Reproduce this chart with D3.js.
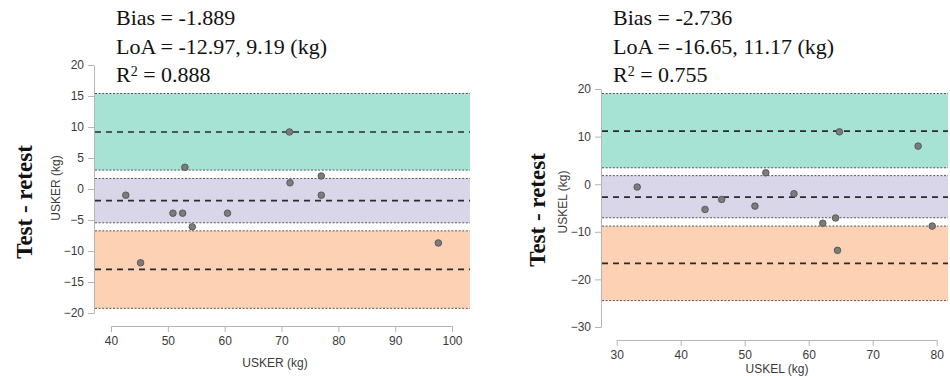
<!DOCTYPE html>
<html>
<head>
<meta charset="utf-8">
<script src="https://cdn.jsdelivr.net/npm/d3@7"></script>
<style>
  body { margin: 0; background: #fff; }
  svg { display: block; }
</style>
</head>
<body>
<div id="container"></div>
<script>
const width = 950;
const height = 376;

// USKER panel (left)
const leftX = [42.6, 45.2, 50.9, 52.6, 53.0, 54.3, 60.5, 71.4, 71.5, 77.0, 77.0, 97.6];
const leftY = [-1.0, -11.9, -3.9, -3.9, 3.5, -6.1, -3.9, 9.2, 1.0, 2.1, -1.0, -8.7];
const leftLines = [9.19, -1.889, -12.97]; // upper LoA, bias, lower LoA
const leftBands = [[3.05, 15.4], [-5.45, 1.7], [-19.25, -6.75]];
const leftXTicks = [40, 50, 60, 70, 80, 90, 100];
const leftYTicks = [20, 15, 10, 5, 0, -5, -10, -15, -20];
const leftText = ["Bias = -1.889", "LoA = -12.97, 9.19 (kg)", "0.888"];

// USKEL panel (right)
const rightX = [33.2, 43.8, 46.4, 51.6, 53.3, 57.7, 62.2, 64.2, 64.5, 64.8, 77.1, 79.3];
const rightY = [-0.6, -5.3, -3.2, -4.6, 2.4, -2.0, -8.2, -7.1, -13.9, 11.0, 8.0, -8.8];
const rightLines = [11.17, -2.736, -16.65];
const rightBands = [[3.45, 19.05], [-7.05, 1.8], [-24.45, -8.8]];
const rightXTicks = [30, 40, 50, 60, 70, 80];
const rightYTicks = [20, 10, 0, -10, -20, -30];
const rightText = ["Bias = -2.736", "LoA = -16.65, 11.17 (kg)", "0.755"];

const bandColours = ["#a7e3d5", "#d9d6ea", "#fdd1b3"];

const svg = d3.select("#container").append("svg")
  .attr("width", width)
  .attr("height", height);

function panel(opts) {
  const x = d3.scaleLinear().domain(opts.xDomain).range(opts.xRange);
  const y = d3.scaleLinear().domain(opts.yDomain).range(opts.yRange);
  const g = svg.append("g");

  // confidence bands
  g.selectAll("rect.band").data(opts.bands).enter().append("rect")
    .attr("class", "band")
    .attr("x", x(opts.xDomain[0]))
    .attr("width", x(opts.xDomain[1]) - x(opts.xDomain[0]))
    .attr("y", d => y(d[1]))
    .attr("height", d => y(d[0]) - y(d[1]))
    .style("fill", (d, i) => bandColours[i]);

  // dotted band edges
  const edges = opts.bands.flat();
  g.selectAll("line.edge").data(edges).enter().append("line")
    .attr("x1", x(opts.xDomain[0]))
    .attr("x2", x(opts.xDomain[1]))
    .attr("y1", d => y(d)).attr("y2", d => y(d))
    .style("stroke", "#555")
    .style("stroke-width", 1)
    .style("stroke-dasharray", "2,1.6");

  // bias and limits of agreement
  g.selectAll("line.loa").data(opts.lines).enter().append("line")
    .attr("x1", x(opts.xDomain[0]))
    .attr("x2", x(opts.xDomain[1]))
    .attr("y1", d => y(d)).attr("y2", d => y(d))
    .style("stroke", "#2b2b2b")
    .style("stroke-width", 1.7)
    .style("stroke-dasharray", "6,5");

  // points
  g.selectAll("circle").data(opts.px.map((v, i) => [v, opts.py[i]])).enter()
    .append("circle")
    .attr("cx", d => x(d[0]))
    .attr("cy", d => y(d[1]))
    .attr("r", 3.3)
    .style("fill", "#7c7c7c")
    .style("stroke", "#4a4a4a")
    .style("stroke-width", 0.8);

  // axes
  const xt = opts.xTicks;
  const xAxisScale = x.copy().domain([xt[0], xt[xt.length - 1]]).range([x(xt[0]), x(xt[xt.length - 1])]);
  const xAxis = g.append("g")
    .attr("transform", `translate(0,${opts.xAxisY})`)
    .call(d3.axisBottom(xAxisScale).tickValues(xt).tickSize(6).tickSizeOuter(0).tickPadding(4));
  const yAxis = g.append("g")
    .attr("transform", `translate(${opts.yAxisX},0)`)
    .call(d3.axisLeft(y).tickValues(opts.yTicks).tickSize(6).tickSizeOuter(0).tickPadding(4));
  [xAxis, yAxis].forEach(a => {
    a.selectAll("path, line").style("stroke", "#b5b5b5");
    a.selectAll("text").style("font-family", "Liberation Sans, Arial, sans-serif")
      .style("font-size", "12px").style("fill", "#3a3a3a");
  });

  // x title
  g.append("text")
    .attr("x", opts.xTitlePos[0])
    .attr("y", opts.xTitlePos[1])
    .attr("text-anchor", "middle")
    .attr("dy", "0.35em")
    .style("font-family", "Liberation Sans, Arial, sans-serif")
    .style("font-size", "12px")
    .style("fill", "#3a3a3a")
    .text(opts.xTitle);

  // small y title
  g.append("text")
    .attr("transform", `translate(${opts.yTitlePos[0]},${opts.yTitlePos[1]}) rotate(-90)`)
    .attr("text-anchor", "middle")
    .style("font-family", "Liberation Sans, Arial, sans-serif")
    .style("font-size", "12px")
    .style("fill", "#3a3a3a")
    .text(opts.yTitle);

  // big y title
  g.append("text")
    .attr("transform", `translate(${opts.bigTitlePos[0]},${opts.bigTitlePos[1]}) rotate(-90)`)
    .attr("text-anchor", "middle")
    .style("font-family", "Liberation Serif, Times New Roman, serif")
    .style("font-weight", "bold")
    .style("font-size", "23px")
    .style("fill", "#111")
    .text("Test - retest");

  // statistics text
  const st = g.append("g")
    .style("font-family", "Liberation Serif, Times New Roman, serif")
    .style("font-size", "22px")
    .style("fill", "#111");
  st.append("text").attr("x", opts.textX).attr("y", 25).text(opts.text[0]);
  st.append("text").attr("x", opts.textX).attr("y", 53.5).text(opts.text[1]);
  const r2 = st.append("text").attr("x", opts.textX).attr("y", 82);
  r2.append("tspan").text("R");
  r2.append("tspan").attr("dy", -6).style("font-size", "14px").text("2");
  r2.append("tspan").attr("dy", 6).text(" = " + opts.text[2]);
}

panel({
  px: leftX, py: leftY, lines: leftLines, bands: leftBands,
  xTicks: leftXTicks, yTicks: leftYTicks, text: leftText,
  xDomain: [37.18, 103.17], xRange: [95, 470],
  yDomain: [20, -20], yRange: [65, 313],
  xAxisY: 326, yAxisX: 94,
  xTitle: "USKER (kg)", xTitlePos: [275, 363],
  yTitle: "USKER (kg)", yTitlePos: [60, 188],
  bigTitlePos: [32, 202],
  textX: 116
});

panel({
  px: rightX, py: rightY, lines: rightLines, bands: rightBands,
  xTicks: rightXTicks, yTicks: rightYTicks, text: rightText,
  xDomain: [27.7, 81.77], xRange: [602, 948],
  yDomain: [20, -30], yRange: [89, 327],
  xAxisY: 340, yAxisX: 601,
  xTitle: "USKEL (kg)", xTitlePos: [777, 368.5],
  yTitle: "USKEL (kg)", yTitlePos: [567, 202],
  bigTitlePos: [545, 210],
  textX: 613
});
</script>
</body>
</html>
